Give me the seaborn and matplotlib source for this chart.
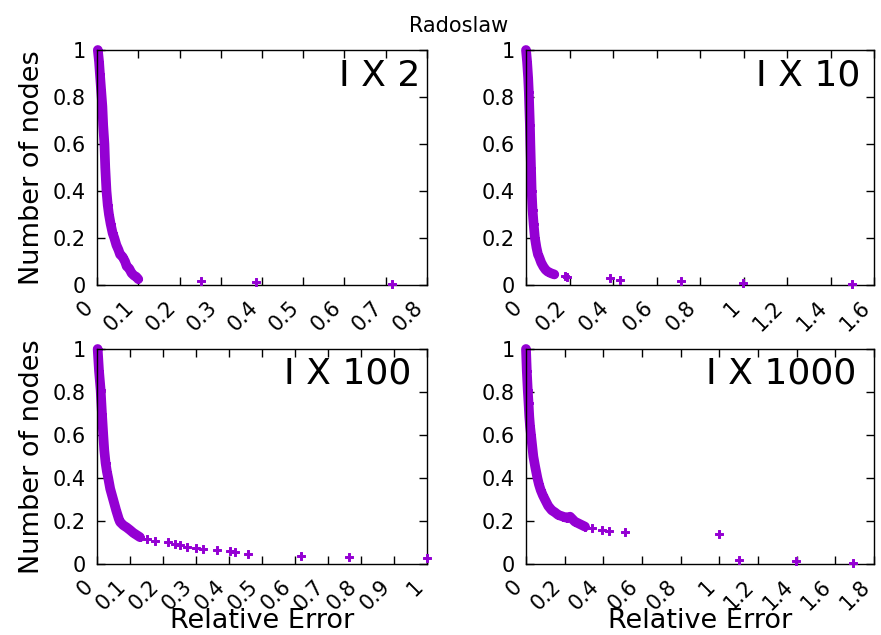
import pandas as pd
import matplotlib
matplotlib.use("Agg")
import matplotlib.pyplot as plt
import seaborn as sns

# dense part of each curve
ix2_dense_x = [0.002, 0.005, 0.007, 0.010, 0.013, 0.015, 0.018, 0.020, 0.023, 0.026, 0.029,
               0.033, 0.038, 0.042, 0.047, 0.052, 0.056, 0.062, 0.068, 0.072, 0.078, 0.084,
               0.090, 0.095, 0.100]
ix2_dense_y = [1.00, 0.95, 0.90, 0.83, 0.76, 0.68, 0.60, 0.50, 0.40, 0.34, 0.30,
               0.26, 0.22, 0.20, 0.17, 0.15, 0.13, 0.12, 0.10, 0.08, 0.07, 0.05,
               0.04, 0.035, 0.025]
ix2_sparse_x = [0.251, 0.385, 0.714]
ix2_sparse_y = [0.018, 0.011, 0.004]

ix10_dense_x = [0.000, 0.005, 0.010, 0.013, 0.015, 0.018, 0.020, 0.023, 0.026, 0.030, 0.035,
                0.041, 0.048, 0.055, 0.060, 0.070, 0.080, 0.090, 0.100, 0.115, 0.130]
ix10_dense_y = [1.00, 0.95, 0.88, 0.82, 0.76, 0.68, 0.60, 0.50, 0.40, 0.32, 0.26,
                0.20, 0.16, 0.13, 0.12, 0.095, 0.078, 0.065, 0.057, 0.050, 0.045]
ix10_sparse_x = [0.178, 0.190, 0.388, 0.430, 0.714, 0.999, 1.498]
ix10_sparse_y = [0.040, 0.032, 0.028, 0.023, 0.017, 0.010, 0.004]

ix100_dense_x = [0.002, 0.006, 0.011, 0.015, 0.019, 0.022, 0.026, 0.030, 0.034, 0.040,
                 0.049, 0.058, 0.066, 0.070, 0.080, 0.090, 0.100, 0.110, 0.120, 0.130]
ix100_dense_y = [1.00, 0.90, 0.81, 0.70, 0.60, 0.53, 0.47, 0.43, 0.40, 0.35,
                 0.30, 0.25, 0.21, 0.195, 0.18, 0.17, 0.158, 0.145, 0.135, 0.125]
ix100_sparse_x = [0.150, 0.176, 0.214, 0.236, 0.252, 0.272, 0.300, 0.322, 0.365, 0.403,
                  0.418, 0.459, 0.618, 0.764, 1.000]
ix100_sparse_y = [0.116, 0.107, 0.101, 0.093, 0.088, 0.081, 0.074, 0.068, 0.064, 0.059,
                  0.054, 0.047, 0.039, 0.033, 0.029]

ix1000_dense_x = [0.000, 0.004, 0.009, 0.013, 0.017, 0.021, 0.026, 0.032, 0.038, 0.048,
                  0.059, 0.067, 0.076, 0.087, 0.098, 0.115, 0.133, 0.150, 0.167, 0.193,
                  0.210, 0.228, 0.253, 0.280, 0.305]
ix1000_dense_y = [1.00, 0.90, 0.81, 0.75, 0.685, 0.64, 0.60, 0.55, 0.50, 0.45,
                  0.40, 0.37, 0.344, 0.32, 0.30, 0.27, 0.25, 0.24, 0.228, 0.22,
                  0.215, 0.22, 0.197, 0.185, 0.174]
ix1000_sparse_x = [0.343, 0.391, 0.431, 0.513, 0.998, 1.10, 1.397, 1.69]
ix1000_sparse_y = [0.166, 0.159, 0.154, 0.147, 0.141, 0.017, 0.012, 0.005]

panel_names = ["I X 2", "I X 10", "I X 100", "I X 1000"]
x_max = [0.8, 1.6, 1.0, 1.8]
x_step = [0.1, 0.2, 0.1, 0.2]

sns.set_style("ticks")
plt.rcParams.update({
    "font.family": ["DejaVu Sans"],
    "axes.linewidth": 1.0,
    "axes.edgecolor": "black",
    "text.color": "black",
    "axes.labelcolor": "black",
    "xtick.color": "black",
    "ytick.color": "black",
    "xtick.labelsize": 15,
    "ytick.labelsize": 15,
    "xtick.direction": "in",
    "ytick.direction": "in",
    "xtick.major.size": 6,
    "ytick.major.size": 6,
    "xtick.major.width": 1,
    "ytick.major.width": 1,
    "xtick.major.pad": 9,
    "ytick.major.pad": 8,
    "xtick.top": True,
    "ytick.right": True,
})

color = "#9400d3"

fig = plt.figure(figsize=(8.81, 6.35), dpi=100)
# axes boxes measured in pixels: left, top, right, bottom
boxes = [(97, 50, 427, 285), (526, 50, 874, 285), (97, 349, 427, 564), (526, 349, 874, 564)]
data = [
    (ix2_dense_x, ix2_dense_y, ix2_sparse_x, ix2_sparse_y),
    (ix10_dense_x, ix10_dense_y, ix10_sparse_x, ix10_sparse_y),
    (ix100_dense_x, ix100_dense_y, ix100_sparse_x, ix100_sparse_y),
    (ix1000_dense_x, ix1000_dense_y, ix1000_sparse_x, ix1000_sparse_y),
]
text_pos = [(0.979, 0.847), (0.962, 0.847), (0.954, 0.840), (0.950, 0.840)]

W, H = 881, 635
for i, (l, t, r, b) in enumerate(boxes):
    ax = fig.add_axes([l / W, 1 - b / H, (r - l) / W, (b - t) / H])
    dx, dy, sx, sy = data[i]
    dense = pd.DataFrame({"x": dx, "y": dy})
    sparse = pd.DataFrame({"x": sx, "y": sy})
    sns.lineplot(data=dense, x="x", y="y", ax=ax, color=color, lw=7,
                 estimator=None, sort=False, clip_on=False, solid_capstyle="round")
    sns.scatterplot(data=dense, x="x", y="y", ax=ax, color=color, marker="P",
                    s=40, linewidth=0.7, edgecolor=color, clip_on=False)
    sns.scatterplot(data=sparse, x="x", y="y", ax=ax, color=color, marker="P",
                    s=40, linewidth=0.7, edgecolor=color, clip_on=False, zorder=3)

    ax.set_xlim(0, x_max[i])
    ax.set_ylim(0, 1)
    n = int(round(x_max[i] / x_step[i]))
    xt = [round(k * x_step[i], 1) for k in range(n + 1)]
    ax.set_xticks(xt, [f"{v:g}" for v in xt], rotation=45, ha="right", va="top")
    yt = [0, 0.2, 0.4, 0.6, 0.8, 1]
    ax.set_yticks(yt, [f"{v:g}" for v in yt])
    for s in ax.spines.values():
        s.set_visible(True)

    ax.text(text_pos[i][0], text_pos[i][1], panel_names[i], transform=ax.transAxes,
            ha="right", va="baseline", fontsize=26)

    if i in (0, 2):
        ax.set_ylabel("Number of nodes", fontsize=19.5)
        ax.yaxis.set_label_coords(-0.158, 0.5)
    else:
        ax.set_ylabel("")
    if i in (2, 3):
        ax.set_xlabel("Relative Error", fontsize=19.5)
        ax.xaxis.set_label_coords(0.5, -0.205)
    else:
        ax.set_xlabel("")

fig.text(459 / W, 1 - 31.7 / H, "Radoslaw", ha="center", va="baseline", fontsize=15)

fig.savefig("out.png", dpi=100)
